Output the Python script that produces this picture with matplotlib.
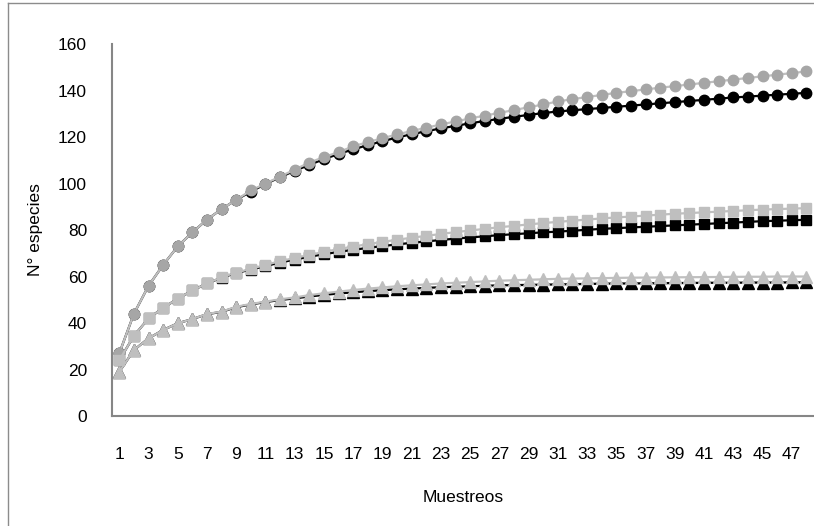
import matplotlib
matplotlib.use('Agg')
import matplotlib.pyplot as plt
from matplotlib.lines import Line2D

plt.rcParams['font.family'] = ['Liberation Sans', 'DejaVu Sans']

muestreos = list(range(1, 49))

# curvas de acumulacion
circ_negro = [27, 44, 56, 65, 73, 79, 84.5, 89, 93, 96.5, 99.8, 102.7, 105.5, 108, 110.5, 112.7,
              114.7, 116.5, 118.2, 119.8, 121.2, 122.5, 123.7, 124.8, 125.9, 126.9, 127.8, 128.7,
              129.5, 130.3, 131, 131.5, 132, 132.5, 133, 133.5, 134, 134.5, 135, 135.5, 136,
              136.5, 137, 137.4, 137.8, 138.2, 138.6, 139]
circ_gris = [27, 44, 56, 65, 73, 79, 84.5, 89, 93, 97, 100, 103, 106, 109, 111.4, 113.5,
             116, 117.8, 119.5, 121.1, 122.6, 124, 125.4, 126.7, 128, 129.2, 130.4, 131.6,
             132.8, 134, 135.3, 136.3, 137.2, 138.1, 139, 139.7, 140.5, 141.2, 141.9, 142.6,
             143.3, 144, 144.7, 145.4, 146.1, 146.8, 147.5, 148.2]
cuad_negro = [24, 34.5, 42, 46.5, 50.5, 54, 57, 59.5, 61.5, 63, 64.5, 66, 67.3, 68.5, 69.6, 70.6,
              71.5, 72.3, 73.1, 73.8, 74.5, 75.1, 75.7, 76.3, 76.8, 77.3, 77.8, 78.2, 78.6, 79,
              79.3, 79.7, 80.1, 80.5, 80.8, 81.1, 81.4, 81.7, 82, 82.3, 82.6, 82.9, 83.2, 83.5,
              83.8, 84, 84.2, 84.4]
cuad_gris = [24, 34.5, 42, 46.5, 50.5, 54, 57, 59.7, 61.7, 63.3, 65, 66.6, 68, 69.3, 70.6, 71.8,
             72.9, 73.9, 74.9, 75.8, 76.7, 77.5, 78.3, 79.1, 79.8, 80.5, 81.2, 81.8, 82.4, 83,
             83.5, 84, 84.5, 85, 85.4, 85.8, 86.2, 86.6, 87, 87.3, 87.6, 87.9, 88.2, 88.5, 88.8,
             89, 89.2, 89.4]
tri_negro = [19, 28.4, 33.4, 37, 39.9, 41.7, 43.8, 44.8, 46.8, 48, 49, 49.9, 50.6, 51.4, 52.1,
             52.7, 53.2, 53.7, 54.1, 54.5, 54.8, 55.1, 55.4, 55.6, 55.8, 56, 56.2, 56.3, 56.4,
             56.5, 56.6, 56.7, 56.8, 56.9, 57, 57, 57.1, 57.1, 57.2, 57.2, 57.3, 57.3, 57.3,
             57.4, 57.4, 57.4, 57.5, 57.5]
tri_gris = [19, 28.4, 33.4, 37, 39.9, 41.7, 43.9, 44.9, 47, 48.2, 49.2, 50.2, 51, 52, 52.8, 53.5,
            54.2, 54.8, 55.3, 55.8, 56.2, 56.6, 57, 57.3, 57.6, 57.9, 58.2, 58.4, 58.6, 58.8, 59,
            59.1, 59.2, 59.3, 59.4, 59.5, 59.55, 59.6, 59.65, 59.7, 59.75, 59.8, 59.85, 59.9,
            59.9, 60, 60, 60]

etiquetas_x = [str(i) for i in range(1, 48, 2)]

fig = plt.figure(figsize=(8.14, 5.26), dpi=100)
ax = fig.add_axes([0.1376, 0.2091, 0.862, 0.7072])

gris_osc = '#A6A6A6'
gris_cla = '#BFBFBF'

ax.plot(muestreos, circ_negro, color='black', lw=1.6, marker='o', ms=7.5, mfc='black', mec='black', zorder=3)
ax.plot(muestreos, circ_gris, color=gris_cla, lw=1.6, marker='o', ms=7.5, mfc=gris_osc, mec=gris_osc, zorder=4)
ax.plot(muestreos, cuad_negro, color='black', lw=1.6, marker='s', ms=7.5, mfc='black', mec='black', zorder=3)
ax.plot(muestreos, cuad_gris, color=gris_cla, lw=1.6, marker='s', ms=7.5, mfc=gris_cla, mec=gris_cla, zorder=4)
ax.plot(muestreos, tri_negro, color='black', lw=1.6, marker='^', ms=8, mfc='black', mec='black', zorder=3)
ax.plot(muestreos, tri_gris, color=gris_cla, lw=1.6, marker='^', ms=8, mfc=gris_cla, mec=gris_cla, zorder=4)

ax.set_xlim(0.5, 48.5)
ax.set_ylim(0, 160)
ax.set_yticks(range(0, 161, 20))
ax.set_xticks(range(1, 48, 2))
ax.set_xticklabels(etiquetas_x)
ax.tick_params(length=0, labelsize=12.5, colors='black')
ax.tick_params(axis='x', pad=22.5)
ax.tick_params(axis='y', pad=18)

for lado in ['top', 'right']:
    ax.spines[lado].set_visible(False)
for lado in ['left', 'bottom']:
    ax.spines[lado].set_color('#868686')
    ax.spines[lado].set_linewidth(1.5)

ax.set_ylabel('N° especies', fontsize=12.5, labelpad=11)
ax.set_xlabel('Muestreos', fontsize=12.5, labelpad=20)

# marco del grafico
fig.add_artist(Line2D([8 / 814, 8 / 814], [0, 1 - 3 / 526], color='#8C8C8C', lw=1))
fig.add_artist(Line2D([8 / 814, 1], [1 - 3 / 526, 1 - 3 / 526], color='#8C8C8C', lw=1))

plt.savefig('out.png', dpi=100)
